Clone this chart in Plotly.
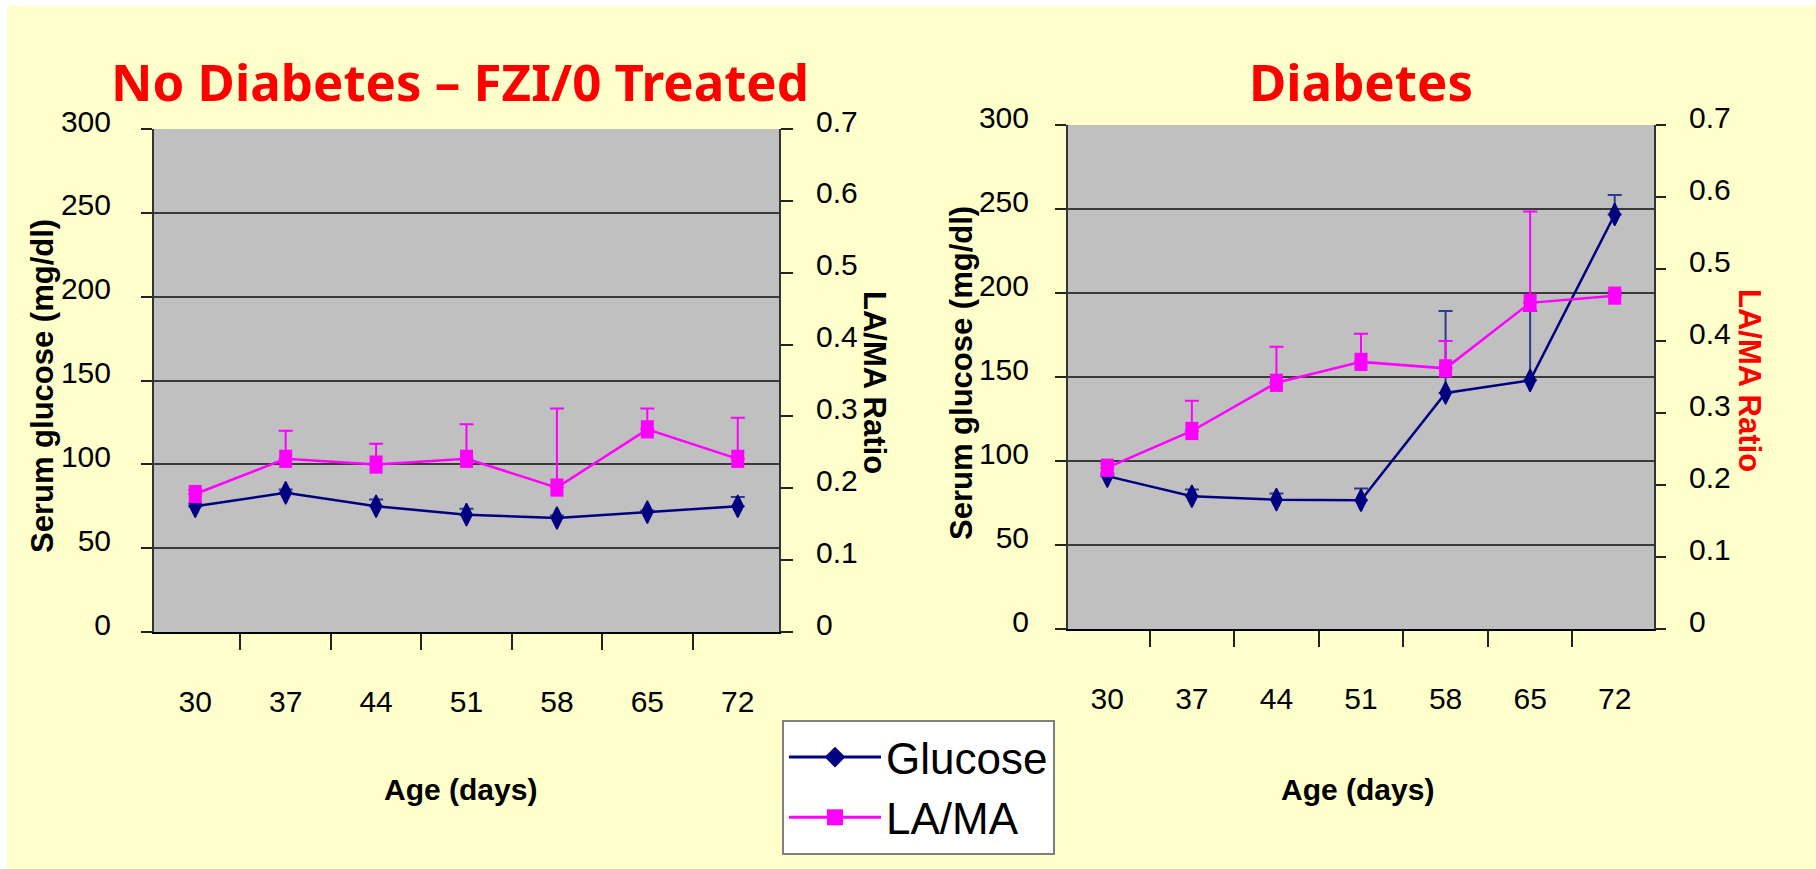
import plotly.graph_objects as go

# Age groups (days) shared by both panels
ages = ["30", "37", "44", "51", "58", "65", "72"]

# Panel 1: no diabetes, FZI/0 treated
nd_glucose = [75, 83, 75, 70, 68, 71.5, 75]
nd_glucose_err = [1.5, 2, 4, 3.5, 1.5, 1, 5.5]
nd_lama = [0.192, 0.241, 0.233, 0.241, 0.201, 0.282, 0.241]
nd_lama_err = [0.006, 0.039, 0.029, 0.048, 0.11, 0.029, 0.057]

# Panel 2: diabetes
db_glucose = [91, 79, 77, 76.6, 140.5, 148, 246.7]
db_glucose_err = [1.5, 4, 3.6, 7, 48.8, 41.3, 11.6]
db_lama = [0.224, 0.275, 0.342, 0.371, 0.362, 0.453, 0.463]
db_lama_err = [0.006, 0.042, 0.05, 0.039, 0.038, 0.127, 0.006]

glucose_ticks = [0, 50, 100, 150, 200, 250, 300]
ratio_ticks = [0, 0.1, 0.2, 0.3, 0.4, 0.5, 0.6, 0.7]

W, H = 1816, 869
NAVY = "#000080"
NAVY_ERR = "#2E3A8C"
MAGENTA = "#FF00FF"
TICK_FONT = dict(family="Arial, Liberation Sans, sans-serif", size=30, color="black")


def px_x(p):
    return p / W


def px_y(p):
    return 1 - p / H


fig = go.Figure()


def add_panel(xa, ya, ya2, glucose, g_err, lama, l_err):
    fig.add_trace(go.Scatter(
        x=ages, y=glucose, xaxis=xa, yaxis=ya, mode="lines+markers",
        line=dict(color=NAVY, width=2.5),
        marker=dict(symbol="diamond-tall", size=16, color=NAVY,
                    line=dict(color=NAVY, width=1.5)),
        error_y=dict(type="data", array=g_err, arrayminus=[0] * len(g_err),
                     symmetric=False, color=NAVY_ERR, thickness=2, width=7),
        showlegend=False, name="Glucose"))
    fig.add_trace(go.Scatter(
        x=ages, y=lama, xaxis=xa, yaxis=ya2, mode="lines+markers",
        line=dict(color=MAGENTA, width=2.5),
        marker=dict(symbol="line-ns", size=13, color=MAGENTA,
                    line=dict(color=MAGENTA, width=13)),
        error_y=dict(type="data", array=l_err, arrayminus=[0] * len(l_err),
                     symmetric=False, color=MAGENTA, thickness=2, width=7),
        showlegend=False, name="LA/MA"))


add_panel("x", "y", "y2", nd_glucose, nd_glucose_err, nd_lama, nd_lama_err)
add_panel("x2", "y3", "y4", db_glucose, db_glucose_err, db_lama, db_lama_err)

# Legend entries
fig.add_trace(go.Scatter(
    x=[None], y=[None], mode="lines+markers", name="Glucose",
    line=dict(color=NAVY, width=3),
    marker=dict(symbol="diamond", size=16, color=NAVY), legendgroup="g"))
fig.add_trace(go.Scatter(
    x=[None], y=[None], mode="lines+markers", name="LA/MA",
    line=dict(color=MAGENTA, width=3),
    marker=dict(symbol="square", size=16, color=MAGENTA), legendgroup="l"))


def x_axis(dom, anchor):
    return dict(domain=dom, anchor=anchor, type="category",
                categoryorder="array", categoryarray=ages,
                tickson="boundaries", ticks="outside", ticklen=16,
                tickwidth=1.5, tickcolor="#222", showgrid=False,
                showline=True, linecolor="black", linewidth=2,
                tickfont=TICK_FONT, ticklabelstandoff=42, zeroline=False,
                fixedrange=True)


def g_axis(dom, anchor, standoff):
    return dict(domain=dom, anchor=anchor, range=[0, 300], tickvals=glucose_ticks,
                ticks="outside", ticklen=11, tickwidth=1.5, tickcolor="#222",
                showgrid=True, gridcolor="#3a3a3a", gridwidth=1.6,
                showline=True, linecolor="#333", linewidth=2, zeroline=False,
                tickfont=TICK_FONT, ticklabelstandoff=standoff,
                ticklabelshift=-8, fixedrange=True)


def r_axis(anchor, over, standoff, outlen):
    return dict(anchor=anchor, overlaying=over, side="right", range=[0, 0.7],
                tickvals=ratio_ticks, ticktext=[f"{v:g}" for v in ratio_ticks],
                ticks="outside", ticklen=outlen, tickwidth=1.5, tickcolor="#222",
                showgrid=False, showline=True, linecolor="#333", linewidth=2,
                zeroline=False, tickfont=TICK_FONT, ticklabelstandoff=standoff,
                ticklabelshift=-8, fixedrange=True)


def r_inner(anchor, over, inlen):
    return dict(anchor=anchor, overlaying=over, side="right", range=[0, 0.7],
                tickvals=ratio_ticks, ticks="inside", ticklen=inlen,
                tickwidth=1.5, tickcolor="#222", showgrid=False,
                showline=False, zeroline=False, showticklabels=False,
                fixedrange=True)


left_x = [px_x(154), px_x(779)]
left_y = [px_y(632), px_y(129)]
right_x = [px_x(1068), px_x(1654)]
right_y = [px_y(629), px_y(125)]

fig.update_layout(
    width=W, height=H,
    margin=dict(l=0, r=0, t=0, b=0, autoexpand=False),
    paper_bgcolor="#FFFFCC", plot_bgcolor="#C0C0C0",
    xaxis=x_axis(left_x, "y"),
    yaxis=g_axis(left_y, "x", 24),
    yaxis2=r_axis("x", "y", 17, 12),
    yaxis5=r_inner("x", "y", 9),
    xaxis2=x_axis(right_x, "y3"),
    yaxis3=g_axis(right_y, "x2", 20),
    yaxis4=r_axis("x2", "y3", 17, 10),
    yaxis6=r_inner("x2", "y3", 11),
    legend=dict(x=px_x(782), y=px_y(855), xanchor="left", yanchor="bottom",
                bgcolor="white", bordercolor="#808080", borderwidth=2,
                font=dict(family="Arial, Liberation Sans, sans-serif", size=44,
                          color="black"),
                tracegroupgap=0, itemwidth=92),
    # white page edge along the top and left
    shapes=[
        dict(type="rect", xref="paper", yref="paper", x0=0, x1=1, y0=px_y(6),
             y1=1, fillcolor="white", line=dict(width=0), layer="below"),
        dict(type="rect", xref="paper", yref="paper", x0=0, x1=px_x(7), y0=0,
             y1=1, fillcolor="white", line=dict(width=0), layer="below"),
    ],
)

TITLE_FONT = "Comic Sans MS, Noto Sans, sans-serif"
BOLD_FONT = "Arial, Liberation Sans, sans-serif"

annotations = [
    dict(text="<b>No Diabetes – FZI/0 Treated</b>", x=px_x(460), y=px_y(81),
         font=dict(family=TITLE_FONT, size=51, color="#FF0000")),
    dict(text="<b>Diabetes</b>", x=px_x(1361), y=px_y(81),
         font=dict(family=TITLE_FONT, size=51, color="#FF0000")),
    dict(text="<b>Serum glucose (mg/dl)</b>", x=px_x(42), y=px_y(386),
         textangle=-90, font=dict(family=BOLD_FONT, size=31, color="black")),
    dict(text="<b>Serum glucose (mg/dl)</b>", x=px_x(961), y=px_y(373),
         textangle=-90, font=dict(family=BOLD_FONT, size=31, color="black")),
    dict(text="<b>LA/MA Ratio</b>", x=px_x(875), y=px_y(382),
         textangle=90, font=dict(family=BOLD_FONT, size=31, color="black")),
    dict(text="<b>LA/MA Ratio</b>", x=px_x(1750), y=px_y(380),
         textangle=90, font=dict(family=BOLD_FONT, size=31, color="#FF0000")),
    dict(text="<b>Age (days)</b>", x=px_x(460), y=px_y(789),
         font=dict(family=BOLD_FONT, size=30, color="black")),
    dict(text="<b>Age (days)</b>", x=px_x(1357), y=px_y(789),
         font=dict(family=BOLD_FONT, size=30, color="black")),
]
for a in annotations:
    a.update(xref="paper", yref="paper", showarrow=False,
             xanchor="center", yanchor="middle")
fig.update_layout(annotations=annotations)

fig.write_html("out.html")
